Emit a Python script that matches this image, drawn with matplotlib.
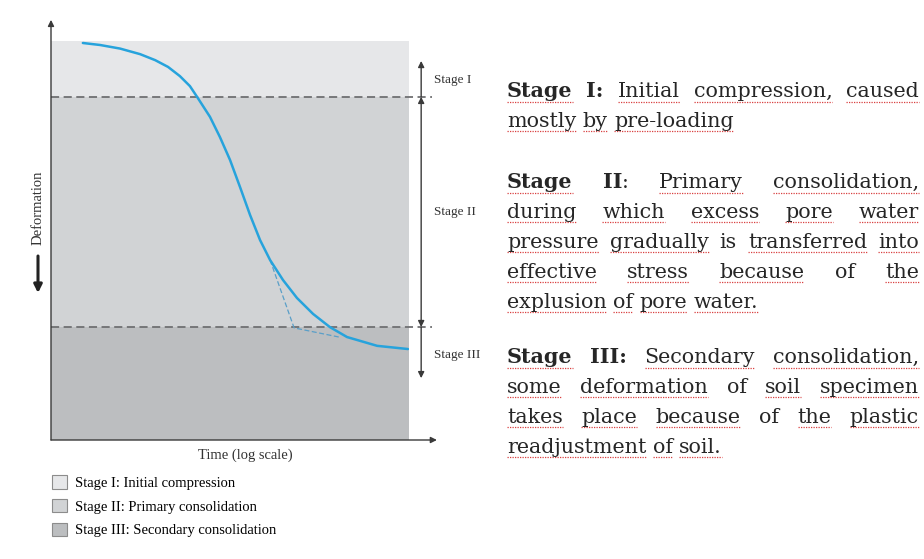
import matplotlib.pyplot as plt
from matplotlib.patches import Patch

# consolidation curve
# x = position along the log-time axis (0..100), y = deformation (0 at top, 100 at bottom)
log_time = [8.9, 13.7, 19.3, 24.9, 29.1, 32.7, 36.0, 38.8, 40.8, 44.4, 47.2, 50.0, 52.8, 55.6,
            58.4, 61.2, 64.8, 68.7, 73.2, 77.9, 82.7, 91.1, 99.7]
deformation = [0.5, 1.0, 1.9, 3.3, 4.8, 6.5, 8.8, 11.3, 14.0, 19.0, 24.1, 29.8, 36.6, 43.6,
               49.9, 54.9, 59.9, 64.4, 68.4, 71.7, 74.2, 76.4, 77.2]
tangent_time = [61.2, 67.9, 81.0]
tangent_def = [54.9, 71.9, 74.3]

stage_names = ['Stage I', 'Stage II', 'Stage III']
stage_bounds = [0, 14.0, 71.7, 100]
stage_colors = ['#e6e7e9', '#d1d3d5', '#bcbec0']
legend_labels = ['Stage I: Initial compression',
                 'Stage II: Primary consolidation',
                 'Stage III: Secondary consolidation']

# *bold*, ^ = no spell-check squiggle
desc_paragraphs = [
    ["*Stage* ^*I:* Initial compression, caused",
     "mostly by pre-loading"],
    ["*Stage* ^*II*: Primary consolidation,",
     "during which excess pore water",
     "pressure gradually ^is transferred into",
     "effective stress because ^of the",
     "explusion of pore water."],
    ["*Stage* ^*III:* Secondary consolidation,",
     "some deformation ^of soil specimen",
     "takes place because ^of the plastic",
     "readjustment of soil."],
]

SERIF = 'Liberation Serif'
DESC_FONT = 'DejaVu Serif'
DESC_SIZE = 14.9
CURVE = '#27a3dc'
DASH = '#6f7072'

fig = plt.figure(figsize=(9.24, 5.59), dpi=100)
fig.patch.set_facecolor('white')

ax = fig.add_axes([51 / 924, 1 - 440 / 559, 358 / 924, 399 / 559])
ax.set_xlim(0, 100)
ax.set_ylim(100, 0)
for s in ax.spines.values():
    s.set_visible(False)
ax.set_xticks([])
ax.set_yticks([])

for i in range(3):
    ax.axhspan(stage_bounds[i], stage_bounds[i + 1], color=stage_colors[i], lw=0, zorder=0)

for b in stage_bounds[1:3]:
    ax.plot([0, 106.4], [b, b], color=DASH, lw=1.3, dashes=(4.5, 2.5), clip_on=False, zorder=2)

ax.plot(tangent_time, tangent_def, color='#5a9fc8', lw=0.9, dashes=(4, 2), zorder=3)
ax.plot(log_time, deformation, color=CURVE, lw=1.8, zorder=4,
        solid_capstyle='round', solid_joinstyle='round')

# axes arrows
arr = dict(arrowstyle='-|>', color='#3a3a3a', lw=1.0, mutation_scale=9, shrinkA=0, shrinkB=0)
ax.annotate('', xy=(0, -5.3), xytext=(0, 100), arrowprops=arr, annotation_clip=False)
ax.annotate('', xy=(107.8, 100), xytext=(0, 100), arrowprops=arr, annotation_clip=False)

# stage extent arrows
sx = 103.4
ax.annotate('', xy=(sx, 5.0), xytext=(sx, stage_bounds[1]), arrowprops=arr, annotation_clip=False)
ax.annotate('', xy=(sx, stage_bounds[1]), xytext=(sx, stage_bounds[2]),
            arrowprops=dict(arr, arrowstyle='<|-|>'), annotation_clip=False)
ax.annotate('', xy=(sx, 84.5), xytext=(sx, stage_bounds[2]), arrowprops=arr, annotation_clip=False)
label_y = [9.8, 42.9, 78.7]
for name, y in zip(stage_names, label_y):
    ax.text(107.0, y, name, fontsize=9.5, family=SERIF, color='#333333',
            ha='left', va='center', clip_on=False)

ax.text(54.2, 103.8, 'Time (log scale)', fontsize=10.5, family=SERIF, color='#333333',
        ha='center', va='center', clip_on=False)

# overlay in pixel units for the free text
ov = fig.add_axes([0, 0, 1, 1])
ov.set_xlim(0, 924)
ov.set_ylim(559, 0)
ov.axis('off')
ov.patch.set_visible(False)

ov.text(38, 208, 'Deformation', rotation=90, fontsize=10.5, family=SERIF, color='#333333',
        ha='center', va='center')
ov.annotate('', xy=(38, 293), xytext=(38, 256),
            arrowprops=dict(arrowstyle='-|>', color='#222222', lw=2.2, mutation_scale=12,
                            shrinkA=0, shrinkB=0))

handles = [Patch(facecolor=c, edgecolor='#8c8c8c', lw=0.8) for c in stage_colors]
fig.legend(handles, legend_labels, loc='upper left', bbox_to_anchor=(52 / 924, 1 - 475 / 559),
           frameon=False, borderpad=0, borderaxespad=0, handlelength=1.05, handleheight=1.05,
           handletextpad=0.5, labelspacing=0.62, prop={'family': SERIF, 'size': 10.5})

# justified description text
renderer = fig.canvas.get_renderer()


def seg_width(s, bold):
    t = ov.text(0, 0, s, fontsize=DESC_SIZE, family=DESC_FONT,
                fontweight='bold' if bold else 'normal')
    w = t.get_window_extent(renderer=renderer).width
    t.remove()
    return w


def parse(word):
    squiggle = not word.startswith('^')
    word = word.lstrip('^')
    parts = word.split('*')
    segs = [(p, i % 2 == 1) for i, p in enumerate(parts) if p]
    return segs, squiggle


space_w = seg_width('a a', False) - seg_width('aa', False)
x_left, x_right = 507, 919
para_start = [97, 188, 363]
line_step = 29.9

for start, lines in zip(para_start, desc_paragraphs):
    for li, line in enumerate(lines):
        y = start + li * line_step
        words = [parse(w) for w in line.split()]
        widths = [sum(seg_width(s, b) for s, b in segs) for segs, _ in words]
        last = li == len(lines) - 1
        if last or len(words) == 1:
            gap = space_w
        else:
            gap = (x_right - x_left - sum(widths)) / (len(words) - 1)
        x = x_left
        for (segs, squig), w in zip(words, widths):
            sx0 = x
            for s, b in segs:
                ov.text(x, y, s, fontsize=DESC_SIZE, family=DESC_FONT,
                        fontweight='bold' if b else 'normal', color='#262626',
                        ha='left', va='baseline')
                x += seg_width(s, b)
            if squig:
                ov.plot([sx0, sx0 + w], [y + 4.5, y + 4.5], color='#d94040', lw=0.9,
                        ls=(0, (1, 1)))
            x = sx0 + w + gap

fig.savefig('out.png', dpi=100, facecolor='white')
